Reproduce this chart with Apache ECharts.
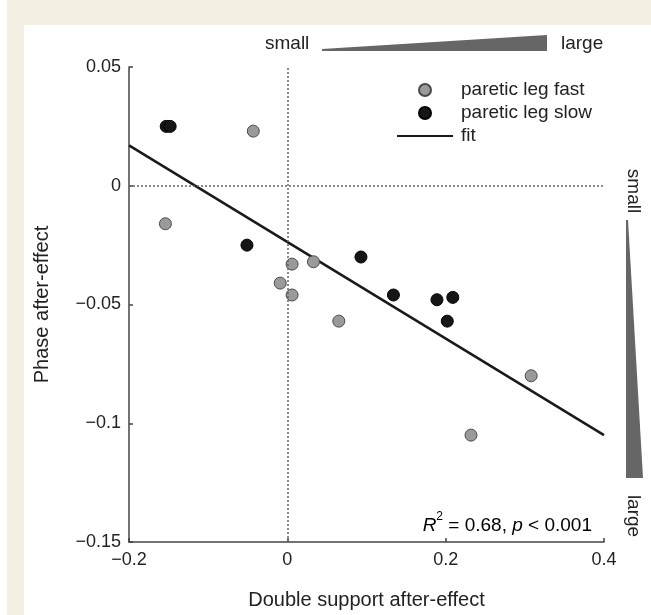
<!DOCTYPE html>
<html>
<head>
<meta charset="utf-8">
<script src="https://cdn.jsdelivr.net/npm/echarts@6/dist/echarts.min.js"></script>
<style>
  html, body { margin: 0; padding: 0; background: #fff; }
  .frame { position: absolute; left: 7px; top: 0; width: 644px; height: 615px; background: #f4f0e3; }
  .panel { position: absolute; left: 24px; top: 25px; width: 627px; height: 590px; background: #fff; }
  #chart { position: absolute; left: 0; top: 0; width: 651px; height: 615px; }
</style>
</head>
<body>
<div class="frame"></div>
<div class="panel"></div>
<div id="chart"></div>
<script>
// --- data ---
const fastPoints = [
  [-0.154, -0.016], [-0.043, 0.023], [-0.009, -0.041], [0.006, -0.033],
  [0.006, -0.046], [0.033, -0.032], [0.065, -0.057], [0.308, -0.080],
  [0.232, -0.105]
];
const slowPoints = [
  [-0.153, 0.025], [-0.148, 0.025], [-0.051, -0.025], [0.093, -0.030],
  [0.134, -0.046], [0.189, -0.048], [0.209, -0.047], [0.202, -0.057]
];
const fitLine = [[-0.2, 0.017], [0.4, -0.105]];
const seriesNames = ['paretic leg fast', 'paretic leg slow', 'fit'];
const xTicks = [-0.2, 0, 0.2, 0.4];
const yTicks = [-0.15, -0.1, -0.05, 0, 0.05];

// 配色
const COLORS = {
  text: '#222',
  axis: '#444',
  fast: '#9a9a9a',
  fastBorder: '#4a4a4a',
  slow: '#161616',
  fit: '#1a1a1a',
  wedge: '#666',
  guide: '#666'
};
const FONT = "'Liberation Sans', Arial, sans-serif";

const fmt = v => String(+v.toFixed(2)).replace('-', '\u2212');

const chart = echarts.init(document.getElementById('chart'));

const option = {
  backgroundColor: 'transparent',
  animation: false,
  textStyle: { fontFamily: FONT, color: COLORS.text },
  grid: { left: 129, right: 47, top: 67, bottom: 72 },
  legend: {
    orient: 'vertical',
    left: 396,
    top: 80,
    padding: 0,
    itemWidth: 56,
    itemHeight: 12,
    itemGap: 3,
    data: seriesNames,
    textStyle: { fontSize: 19, color: COLORS.text, fontFamily: FONT, lineHeight: 20, padding: [0, 0, 0, 3] }
  },
  xAxis: {
    type: 'value',
    min: xTicks[0],
    max: xTicks[xTicks.length - 1],
    interval: 0.2,
    name: 'Double support after-effect',
    nameLocation: 'middle',
    nameGap: 48,
    nameTextStyle: { fontSize: 20, color: COLORS.text, fontFamily: FONT },
    axisLine: { show: true, onZero: false, lineStyle: { color: COLORS.axis, width: 1.5 } },
    axisTick: { show: true, inside: true, length: 4, lineStyle: { color: COLORS.axis, width: 1.5 } },
    axisLabel: { fontSize: 18, color: COLORS.text, margin: 9, formatter: fmt },
    splitLine: { show: false }
  },
  yAxis: {
    type: 'value',
    min: yTicks[0],
    max: yTicks[yTicks.length - 1],
    interval: 0.05,
    name: 'Phase after-effect',
    nameLocation: 'middle',
    nameGap: 77,
    nameTextStyle: { fontSize: 20, color: COLORS.text, fontFamily: FONT },
    axisLine: { show: true, onZero: false, lineStyle: { color: COLORS.axis, width: 1.5 } },
    axisTick: { show: true, inside: true, length: 4, lineStyle: { color: COLORS.axis, width: 1.5 } },
    axisLabel: { fontSize: 18, color: COLORS.text, margin: 8, formatter: fmt },
    splitLine: { show: false }
  },
  series: [
    {
      // dotted zero guides
      name: 'guides',
      type: 'line',
      data: [],
      z: 1,
      markLine: {
        silent: true,
        symbol: ['none', 'none'],
        label: { show: false },
        lineStyle: { type: [2, 2], color: COLORS.guide, width: 1.5 },
        data: [{ xAxis: 0 }, { yAxis: 0 }]
      }
    },
    {
      name: seriesNames[2],
      type: 'line',
      data: fitLine,
      symbol: 'none',
      z: 2,
      lineStyle: { color: COLORS.fit, width: 2.5 },
      itemStyle: { color: 'rgba(0,0,0,0)' } // 图例中不显示圆点
    },
    {
      name: seriesNames[0],
      type: 'scatter',
      data: fastPoints,
      symbolSize: 12,
      z: 3,
      itemStyle: { color: COLORS.fast, borderColor: COLORS.fastBorder, borderWidth: 1, opacity: 1 }
    },
    {
      name: seriesNames[1],
      type: 'scatter',
      data: slowPoints,
      symbolSize: 12,
      z: 3,
      itemStyle: { color: COLORS.slow, borderColor: '#000', borderWidth: 1, opacity: 1 }
    }
  ],
  // 注释：大小楔形 + 统计量
  graphic: [
    {
      type: 'text', left: 265, top: 34,
      style: { text: 'small', fontSize: 19, fontFamily: FONT, fill: COLORS.text }
    },
    {
      type: 'polygon',
      shape: { points: [[322, 49], [547, 35], [547, 51], [322, 51]] },
      style: { fill: COLORS.wedge }
    },
    {
      type: 'text', left: 561, top: 34,
      style: { text: 'large', fontSize: 19, fontFamily: FONT, fill: COLORS.text }
    },
    {
      type: 'text', x: 633, y: 191, rotation: -Math.PI / 2,
      style: { text: 'small', fontSize: 19, fontFamily: FONT, fill: COLORS.text, align: 'center', verticalAlign: 'middle' }
    },
    {
      type: 'polygon',
      shape: { points: [[626, 220], [628, 220], [643, 478], [626, 478]] },
      style: { fill: COLORS.wedge }
    },
    {
      type: 'text', x: 633, y: 516, rotation: -Math.PI / 2,
      style: { text: 'large', fontSize: 19, fontFamily: FONT, fill: COLORS.text, align: 'center', verticalAlign: 'middle' }
    },
    {
      type: 'text', x: 592, y: 526,
      style: {
        text: '{i|R}{sup|2}{n| = 0.68, }{i|p}{n| < 0.001}',
        align: 'right', verticalAlign: 'middle',
        rich: {
          i: { fontSize: 19, lineHeight: 30, fontStyle: 'italic', fontFamily: FONT, color: COLORS.text },
          n: { fontSize: 19, lineHeight: 30, fontFamily: FONT, color: COLORS.text },
          sup: { fontSize: 12, lineHeight: 12, fontFamily: FONT, color: COLORS.text, verticalAlign: 'top' }
        }
      }
    }
  ]
};

chart.setOption(option);
</script>
</body>
</html>
